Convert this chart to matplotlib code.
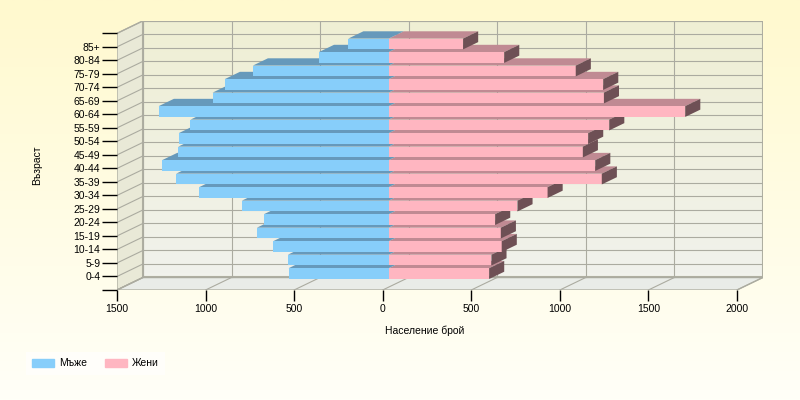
import numpy as np
import matplotlib.pyplot as plt
from matplotlib.patches import Polygon, Patch

# Данни: възрастови групи и население (мъже / жени)
ages = ['0-4', '5-9', '10-14', '15-19', '20-24', '25-29', '30-34', '35-39', '40-44',
        '45-49', '50-54', '55-59', '60-64', '65-69', '70-74', '75-79', '80-84', '85+']
men = [565, 569, 652, 744, 704, 829, 1070, 1200, 1279,
       1188, 1185, 1119, 1298, 994, 925, 767, 394, 228]
women = [567, 580, 638, 633, 601, 727, 897, 1203, 1166,
         1096, 1126, 1245, 1674, 1215, 1211, 1056, 652, 420]
x_ticks = [-1500, -1000, -500, 0, 500, 1000, 1500, 2000]

plt.rcParams['font.family'] = ['Liberation Sans', 'DejaVu Sans']

# 3D ефект: дълбочина на кутията в единици на данните
DX, DY = 147, 0.93
FRONT = 0.23     # къде започва стълбът в дълбочина
DEPTH = 0.58     # дълбочина на стълба
H = 0.8          # височина на стълба

m_front, m_top, w_front, w_top, w_side = '#87CEFA', '#6699BB', '#FFB6C1', '#C08A93', '#6E5055'

fig = plt.figure(figsize=(8, 4), dpi=100)

# фон с преливане
bg = fig.add_axes([0, 0, 1, 1], zorder=-10)
grad = np.linspace(0, 1, 256)[:, None]
top_c = np.array([255, 249, 206]) / 255
bot_c = np.array([255, 255, 248]) / 255
bg.imshow(top_c * (1 - grad[..., None]) + bot_c * grad[..., None], aspect='auto', extent=(0, 1, 0, 1))
bg.set_axis_off()

ax = fig.add_axes([117 / 800, 110 / 400, 646 / 800, 269.2 / 400])
ax.set_xlim(-1500, 2000 + DX)
ax.set_ylim(-1, 18 + DY)
ax.patch.set_alpha(0)
for s in ax.spines.values():
    s.set_visible(False)

x0, x1, y0, y1 = -1500, 2000, -1, 18
edge = '#B0B0A2'

# задна стена с преливане
wall = np.linspace(0, 1, 64)[:, None]
wt = np.array([239, 239, 212]) / 255
wb = np.array([241, 242, 236]) / 255
ax.imshow(wt * (1 - wall[..., None]) + wb * wall[..., None], aspect='auto',
          extent=(x0 + DX, x1 + DX, y0 + DY, y1 + DY), zorder=0)
ax.add_patch(Polygon([(x0 + DX, y0 + DY), (x1 + DX, y0 + DY), (x1 + DX, y1 + DY), (x0 + DX, y1 + DY)],
                     closed=True, fill=False, ec=edge, lw=1.5, zorder=0.5))
# лява стена
ax.add_patch(Polygon([(x0, y0), (x0 + DX, y0 + DY), (x0 + DX, y1 + DY), (x0, y1)],
                     closed=True, fc='#E9E9D7', ec=edge, lw=1, zorder=0.4))
# под
ax.add_patch(Polygon([(x0, y0), (x1, y0), (x1 + DX, y0 + DY), (x0 + DX, y0 + DY)],
                     closed=True, fc='#E9ECE8', ec=edge, lw=1, zorder=0.4))

grid_c = '#ABABA0'
for v in x_ticks:
    ax.plot([v + DX, v + DX], [y0 + DY, y1 + DY], color=grid_c, lw=0.8, zorder=0.6)
    ax.plot([v, v + DX], [y0, y0 + DY], color=grid_c, lw=0.8, zorder=0.6)
for k in range(-1, 19):
    ax.plot([x0 + DX, x1 + DX], [k + DY, k + DY], color=grid_c, lw=0.8, zorder=0.6)
    ax.plot([x0, x0 + DX], [k, k + DY], color=grid_c, lw=0.8, zorder=0.6)

# стълбове
ypos = np.arange(len(ages))
fx, fy = FRONT * DX, FRONT * DY
dx, dy = DEPTH * DX, DEPTH * DY
mb = ax.barh(ypos + fy, [-m for m in men], left=fx, height=H, color=m_front, lw=0)
wbars = ax.barh(ypos + fy, women, left=fx, height=H, color=w_front, lw=0)

for i, (m, w) in enumerate(zip(men, women)):
    z = 3 + i * 0.1
    yt = i + fy + H / 2
    yb = i + fy - H / 2
    ax.add_patch(Polygon([(fx, yt), (fx + w, yt), (fx + w + dx, yt + dy), (fx + dx, yt + dy)],
                         closed=True, fc=w_top, lw=0, zorder=z))
    ax.add_patch(Polygon([(fx - m, yt), (fx, yt), (fx + dx, yt + dy), (fx - m + dx, yt + dy)],
                         closed=True, fc=m_top, lw=0, zorder=z + 0.01))
    wbars[i].set_zorder(z + 0.02)
    mb[i].set_zorder(z + 0.03)
    ax.add_patch(Polygon([(fx + w, yb), (fx + w + dx, yb + dy), (fx + w + dx, yt + dy), (fx + w, yt)],
                         closed=True, fc=w_side, lw=0, zorder=z + 0.04))

# оси
ax.set_yticks(range(-1, 19))
ax.set_yticklabels([''] + ages + [''])
ax.set_xticks(x_ticks)
ax.set_xticklabels([str(abs(v)) for v in x_ticks])
ax.tick_params(axis='y', length=11, width=1, color='black', pad=1, labelsize=7.5)
ax.tick_params(axis='x', length=8, width=1, color='black', pad=2, labelsize=7.5)

fig.text(37 / 800, 1 - 165 / 400, 'Възраст', rotation=90, ha='center', va='center', fontsize=7.5)
fig.text(425 / 800, 1 - 331 / 400, 'Население брой', ha='center', va='center', fontsize=7.5)

handles = [Patch(color=m_front, label='Мъже'), Patch(color=w_front, label='Жени')]
fig.legend(handles=handles, loc='upper left', bbox_to_anchor=(21 / 800, 1 - 347 / 400), ncol=2,
           frameon=True, facecolor='#FFFFFC', edgecolor='none', fancybox=False, fontsize=7.5,
           handlelength=2.1, handleheight=0.85, handletextpad=0.5, columnspacing=1.7,
           borderpad=0.6)

fig.savefig('out.png', dpi=100)
